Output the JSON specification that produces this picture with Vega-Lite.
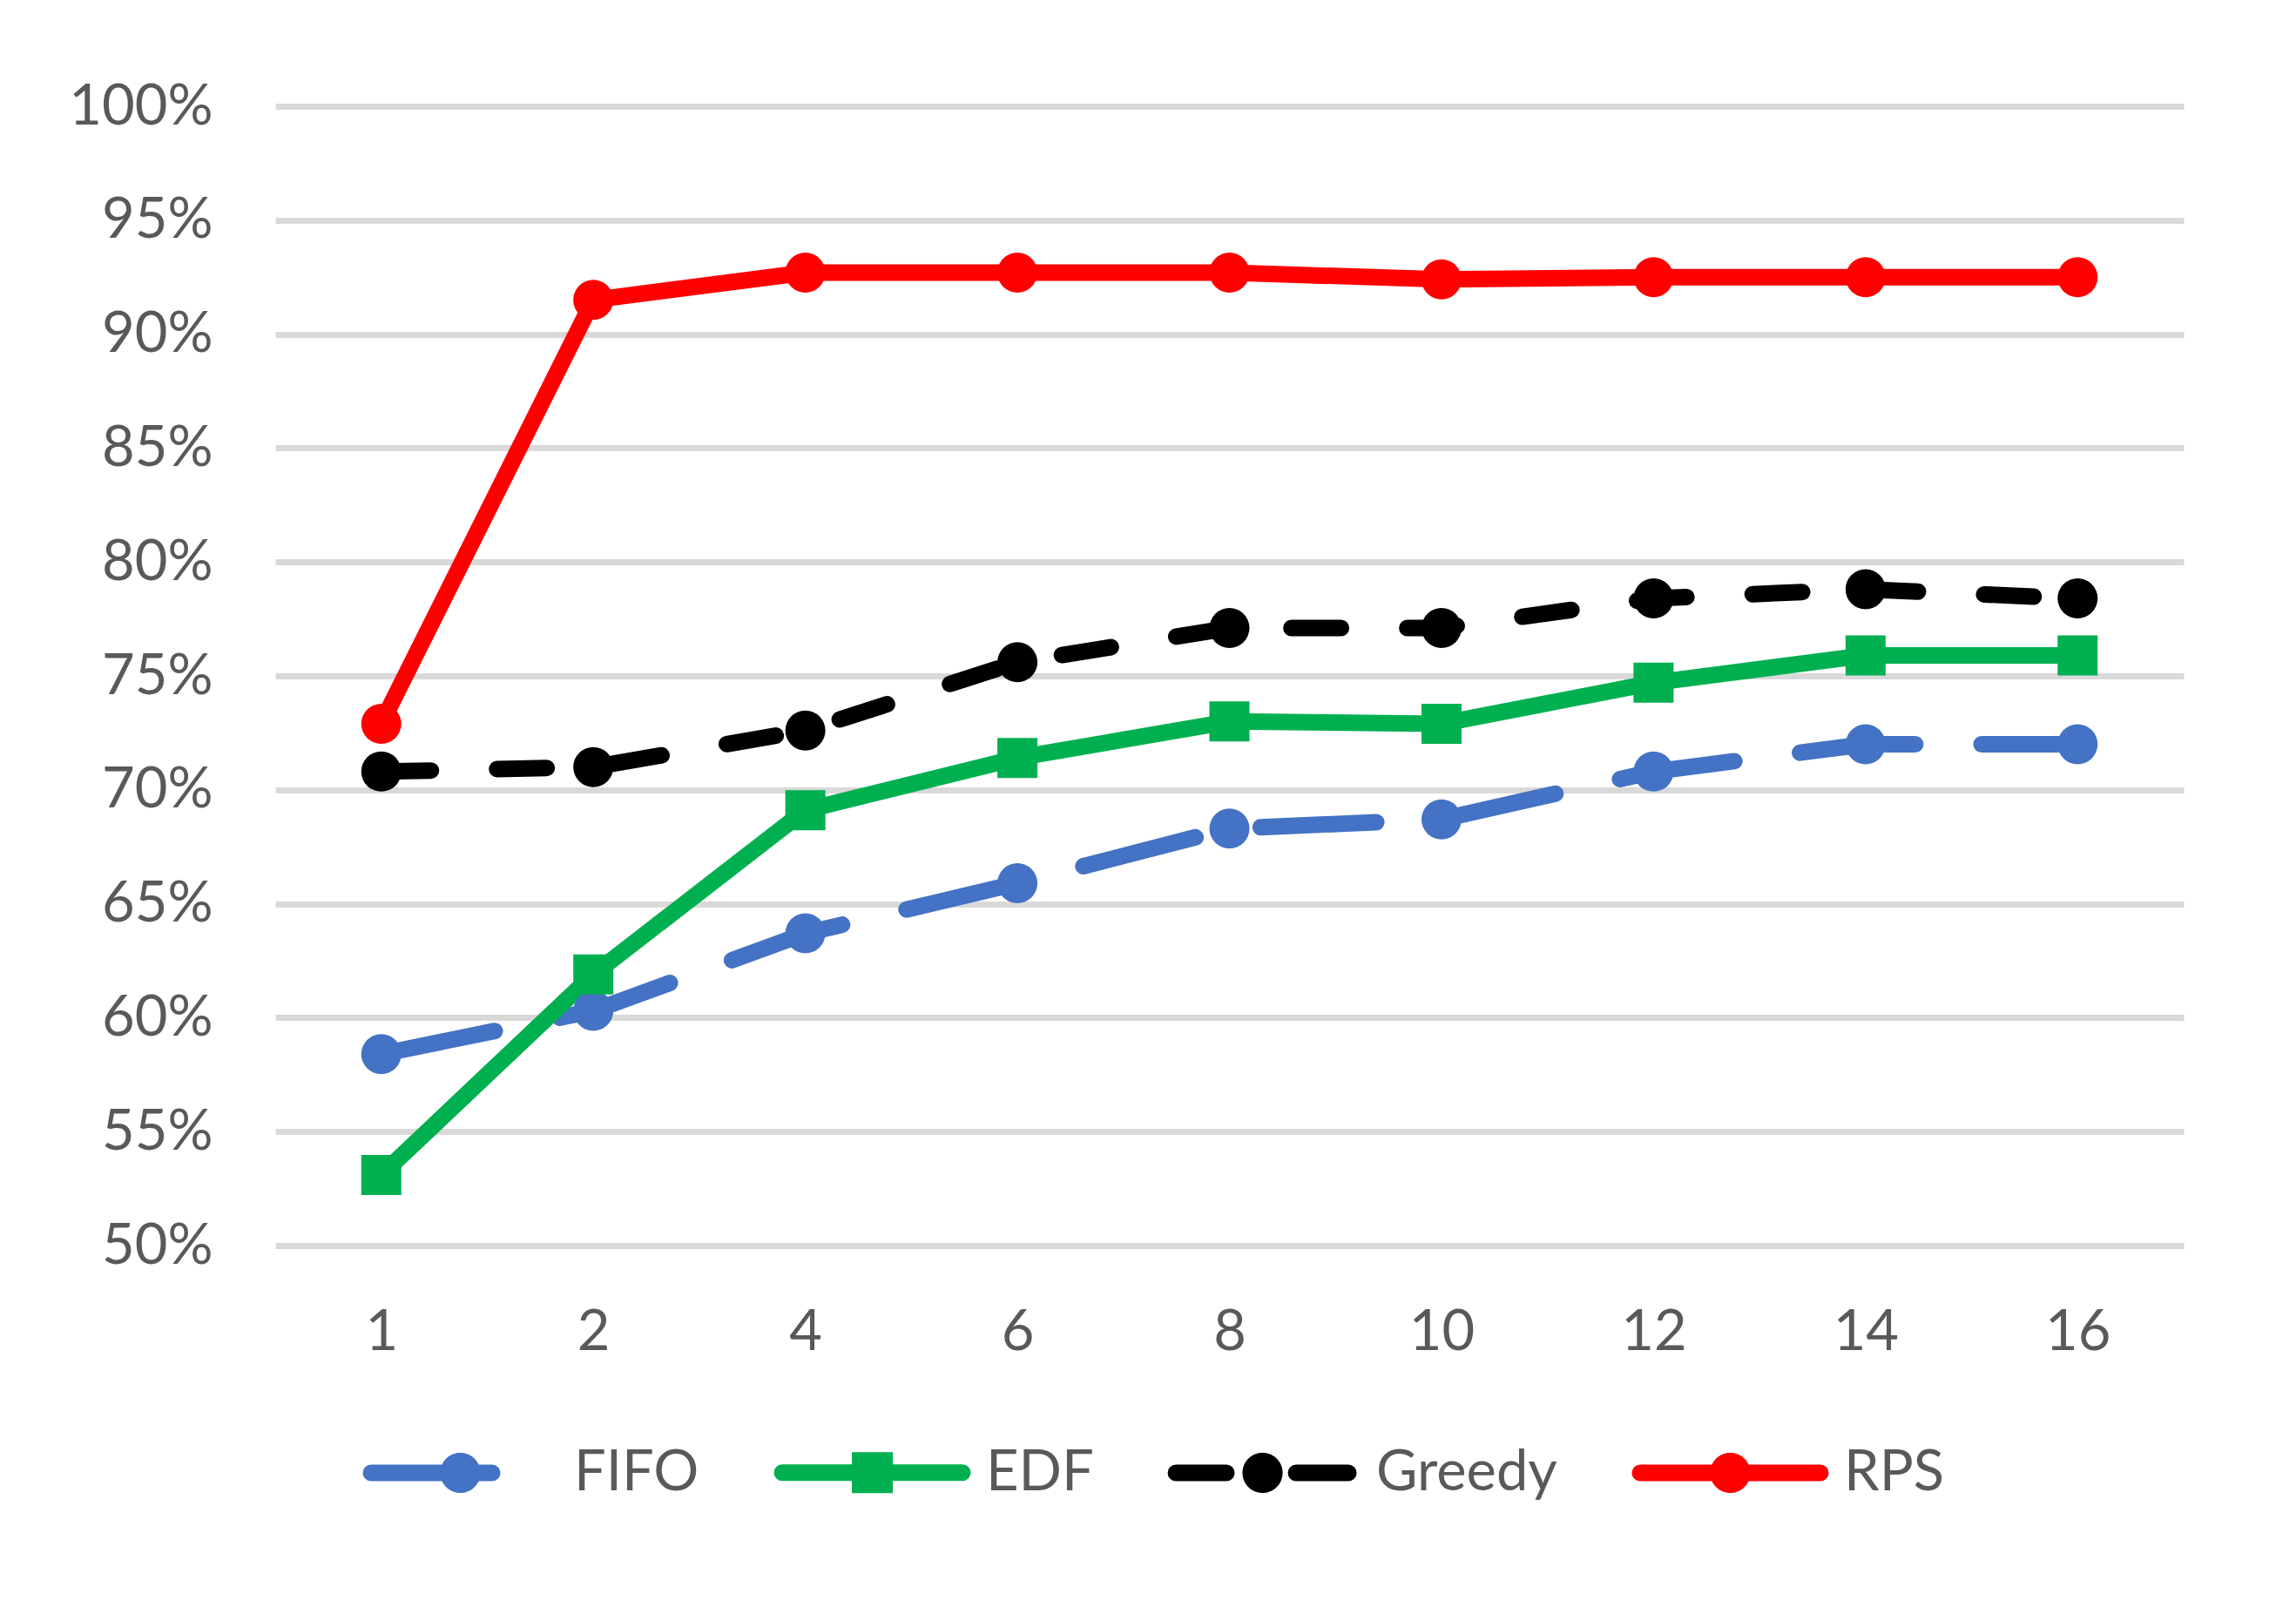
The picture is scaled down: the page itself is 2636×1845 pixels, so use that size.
{
  "$schema": "https://vega.github.io/schema/vega-lite/v6.json",
  "width": 2191,
  "height": 1308,
  "autosize": {"type": "none"},
  "padding": {"left": 316, "top": 122, "right": 129, "bottom": 415},
  "background": "white",
  "config": {
    "view": {"stroke": null},
    "font": "Lato"
  },
  "data": {
    "values": [
      {"x": "1", "series": "FIFO", "value": 0.584},
      {"x": "2", "series": "FIFO", "value": 0.603},
      {"x": "4", "series": "FIFO", "value": 0.637},
      {"x": "6", "series": "FIFO", "value": 0.659},
      {"x": "8", "series": "FIFO", "value": 0.683},
      {"x": "10", "series": "FIFO", "value": 0.687},
      {"x": "12", "series": "FIFO", "value": 0.708},
      {"x": "14", "series": "FIFO", "value": 0.720},
      {"x": "16", "series": "FIFO", "value": 0.720},
      {"x": "1", "series": "EDF", "value": 0.531},
      {"x": "2", "series": "EDF", "value": 0.619},
      {"x": "4", "series": "EDF", "value": 0.691},
      {"x": "6", "series": "EDF", "value": 0.714},
      {"x": "8", "series": "EDF", "value": 0.730},
      {"x": "10", "series": "EDF", "value": 0.729},
      {"x": "12", "series": "EDF", "value": 0.747},
      {"x": "14", "series": "EDF", "value": 0.759},
      {"x": "16", "series": "EDF", "value": 0.759},
      {"x": "1", "series": "Greedy", "value": 0.708},
      {"x": "2", "series": "Greedy", "value": 0.710},
      {"x": "4", "series": "Greedy", "value": 0.726},
      {"x": "6", "series": "Greedy", "value": 0.756},
      {"x": "8", "series": "Greedy", "value": 0.771},
      {"x": "10", "series": "Greedy", "value": 0.771},
      {"x": "12", "series": "Greedy", "value": 0.784},
      {"x": "14", "series": "Greedy", "value": 0.788},
      {"x": "16", "series": "Greedy", "value": 0.784},
      {"x": "1", "series": "RPS", "value": 0.729},
      {"x": "2", "series": "RPS", "value": 0.915},
      {"x": "4", "series": "RPS", "value": 0.927},
      {"x": "6", "series": "RPS", "value": 0.927},
      {"x": "8", "series": "RPS", "value": 0.927},
      {"x": "10", "series": "RPS", "value": 0.924},
      {"x": "12", "series": "RPS", "value": 0.925},
      {"x": "14", "series": "RPS", "value": 0.925},
      {"x": "16", "series": "RPS", "value": 0.925}
    ]
  },
  "encoding": {
    "x": {
      "field": "x",
      "type": "ordinal",
      "scale": {"type": "point", "padding": 0.5, "domain": ["1", "2", "4", "6", "8", "10", "12", "14", "16"]},
      "axis": {
        "title": null,
        "labelAngle": 0,
        "domain": false,
        "ticks": false,
        "tickSize": 0,
        "grid": false,
        "labelFont": "Lato",
        "labelFontSize": 65,
        "labelColor": "#595959",
        "labelBaseline": "middle",
        "labelPadding": 99
      }
    },
    "y": {
      "field": "value",
      "type": "quantitative",
      "scale": {"domain": [0.5, 1.0], "nice": false, "zero": false},
      "axis": {
        "title": null,
        "values": [0.5, 0.55, 0.6, 0.65, 0.7, 0.75, 0.8, 0.85, 0.9, 0.95, 1.0],
        "format": ".0%",
        "domain": false,
        "ticks": false,
        "tickSize": 0,
        "grid": true,
        "gridColor": "#d9d9d9",
        "gridWidth": 7,
        "labelFont": "Lato",
        "labelFontSize": 65,
        "labelColor": "#595959",
        "labelPadding": 72
      }
    },
    "color": {
      "field": "series",
      "type": "nominal",
      "scale": {"domain": ["FIFO", "EDF", "Greedy", "RPS"], "range": ["#4472C4", "#00B050", "#000000", "#FF0000"]},
      "legend": {
        "title": null,
        "orient": "none",
        "direction": "horizontal",
        "columns": 4,
        "legendX": 90,
        "legendY": 1446,
        "padding": 0,
        "symbolSize": 51076,
        "symbolStrokeWidth": 19,
        "labelOffset": 8,
        "columnPadding": 56,
        "labelFont": "Lato",
        "labelFontSize": 65,
        "labelColor": "#595959",
        "labelLimit": 0,
        "encode": {
          "symbols": {
            "update": {
              "shape": {"signal": "datum.value === 'FIFO' ? 'M-0.907,0H0.323M0.12,0C0.12,0.0663 0.0663,0.12 0,0.12C-0.0663,0.12 -0.12,0.0663 -0.12,0C-0.12,-0.0663 -0.0663,-0.12 0,-0.12C0.0663,-0.12 0.12,-0.0663 0.12,0Z' : datum.value === 'EDF' ? 'M-0.916,0H0.916M-0.124,-0.124H0.124V0.124H-0.124Z' : datum.value === 'Greedy' ? 'M-0.88,0H-0.367M0.341,0H0.872M0.12,0C0.12,0.0663 0.0663,0.12 0,0.12C-0.0663,0.12 -0.12,0.0663 -0.12,0C-0.12,-0.0663 -0.0663,-0.12 0,-0.12C0.0663,-0.12 0.12,-0.0663 0.12,0Z' : 'M-0.916,0H0.916M0.12,0C0.12,0.0663 0.0663,0.12 0,0.12C-0.0663,0.12 -0.12,0.0663 -0.12,0C-0.12,-0.0663 -0.0663,-0.12 0,-0.12C0.0663,-0.12 0.12,-0.0663 0.12,0Z'"},
              "fill": {"signal": "scale('color', datum.value)"},
              "stroke": {"signal": "scale('color', datum.value)"},
              "strokeWidth": {"value": 19},
              "strokeCap": {"value": "round"},
              "strokeJoin": {"value": "miter"},
              "strokeDash": {"value": [1, 0]},
              "opacity": {"value": 1},
              "fillOpacity": {"value": 1},
              "strokeOpacity": {"value": 1}
            }
          }
        }
      }
    }
  },
  "layer": [
    {
      "transform": [{"filter": "datum.series === 'FIFO'"}],
      "mark": {"type": "line", "strokeWidth": 19, "strokeCap": "round", "strokeJoin": "round", "strokeDash": [133, 76]}
    },
    {
      "transform": [{"filter": "datum.series === 'Greedy'"}],
      "mark": {"type": "line", "strokeWidth": 19, "strokeCap": "round", "strokeJoin": "round", "strokeDash": [57, 76]}
    },
    {
      "transform": [{"filter": "datum.series === 'EDF' || datum.series === 'RPS'"}],
      "mark": {"type": "line", "strokeWidth": 19, "strokeCap": "round", "strokeJoin": "round"}
    },
    {
      "transform": [{"filter": "datum.series !== 'EDF'"}],
      "mark": {"type": "point", "shape": "circle", "filled": true, "opacity": 1, "size": 2116}
    },
    {
      "transform": [{"filter": "datum.series === 'EDF'"}],
      "mark": {"type": "point", "shape": "square", "filled": true, "opacity": 1, "size": 2116}
    }
  ]
}
